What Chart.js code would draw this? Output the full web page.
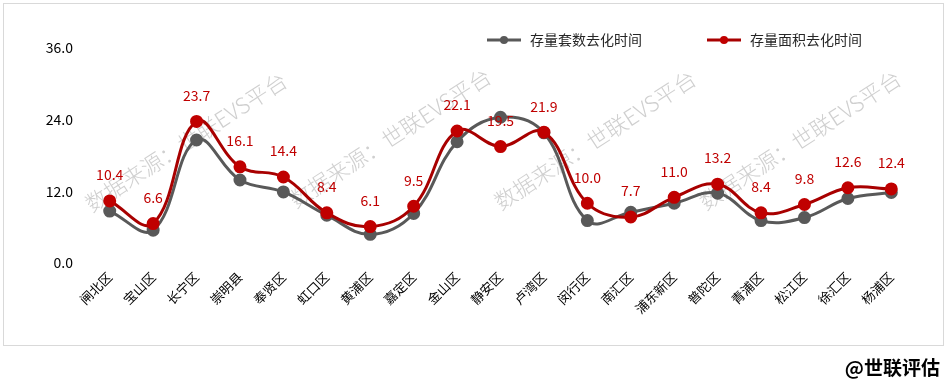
<!DOCTYPE html>
<html>
<head>
<meta charset="utf-8">
<script src="https://cdn.jsdelivr.net/npm/chart.js@4/dist/chart.umd.min.js"></script>
<style>
html,body{margin:0;padding:0;background:#fff;}
#wrap{position:relative;width:948px;height:382px;}
</style>
</head>
<body>
<div id="wrap"><canvas id="c" width="948" height="382"></canvas></div>
<script>
const categories = ['闸北区','宝山区','长宁区','崇明县','奉贤区','虹口区','黄浦区','嘉定区','金山区','静安区','卢湾区','闵行区','南汇区','浦东新区','普陀区','青浦区','松江区','徐汇区','杨浦区'];
const setsMonths = [8.7,5.5,20.6,13.9,11.9,8.0,4.8,8.3,20.3,24.4,21.8,7.1,8.5,10.0,11.7,7.1,7.6,10.8,11.8];
const areaMonths = [10.4,6.6,23.7,16.1,14.4,8.4,6.1,9.5,22.1,19.5,21.9,10.0,7.7,11.0,13.2,8.4,9.8,12.6,12.4];
const seriesNames = ['存量套数去化时间','存量面积去化时间'];
const yTicks = [0,12,24,36];
const watermark = '数据来源：世联EVS平台';
const credit = '@世联评估';

const FONT = '"Noto Sans CJK SC","Noto Sans",sans-serif';
const GRAY = '#595959';
const RED = '#c00000';
const RED_LINE = '#a80000';

const extras = {
  id: 'extras',
  beforeDraw(chart) {
    const ctx = chart.ctx;
    ctx.save();
    ctx.strokeStyle = '#d9d9d9';
    ctx.lineWidth = 1;
    ctx.strokeRect(3.5, 3.5, 940, 342);
    ctx.restore();
  },
  beforeDatasetsDraw(chart) {
    const ctx = chart.ctx;
    const centers = [[186,142],[390,138],[595,140],[800,140]];
    ctx.save();
    ctx.font = '300 22px ' + FONT;
    ctx.fillStyle = 'rgba(160,160,160,0.5)';
    ctx.textAlign = 'center';
    ctx.textBaseline = 'middle';
    centers.forEach(([x,y]) => {
      ctx.save();
      ctx.translate(x, y);
      ctx.rotate(-33 * Math.PI / 180);
      ctx.fillText(watermark, 0, 0);
      ctx.restore();
    });
    ctx.restore();
  },
  afterDatasetsDraw(chart) {
    const ctx = chart.ctx;
    const meta = chart.getDatasetMeta(1);
    ctx.save();
    ctx.font = '14px ' + FONT;
    ctx.fillStyle = RED;
    ctx.textAlign = 'center';
    ctx.textBaseline = 'middle';
    meta.data.forEach((pt, i) => {
      ctx.fillText(areaMonths[i].toFixed(1), pt.x, pt.y - 26);
    });
    ctx.restore();
  },
  afterDraw(chart) {
    const ctx = chart.ctx;
    ctx.save();
    const items = [
      {x0: 487, name: seriesNames[0], color: GRAY, mcol: GRAY},
      {x0: 707, name: seriesNames[1], color: RED_LINE, mcol: RED}
    ];
    const y = 40;
    items.forEach(it => {
      ctx.strokeStyle = it.color;
      ctx.lineWidth = 3;
      ctx.beginPath();
      ctx.moveTo(it.x0, y);
      ctx.lineTo(it.x0 + 34, y);
      ctx.stroke();
      ctx.fillStyle = it.mcol;
      ctx.beginPath();
      ctx.arc(it.x0 + 17, y, 4, 0, Math.PI * 2);
      ctx.fill();
      ctx.fillStyle = '#262626';
      ctx.font = '14px ' + FONT;
      ctx.textAlign = 'left';
      ctx.textBaseline = 'middle';
      ctx.fillText(it.name, it.x0 + 43, y);
    });
    ctx.font = 'bold 19px ' + FONT;
    ctx.fillStyle = '#000';
    ctx.textAlign = 'right';
    ctx.textBaseline = 'middle';
    ctx.fillText(credit, 940, 368);
    ctx.restore();
  }
};

new Chart(document.getElementById('c'), {
  type: 'line',
  data: {
    labels: categories,
    datasets: [
      {
        label: seriesNames[0],
        data: setsMonths,
        borderColor: GRAY,
        backgroundColor: GRAY,
        pointBackgroundColor: GRAY,
        pointBorderColor: GRAY,
        borderWidth: 3,
        pointRadius: 5,
        tension: 0.4,
        order: 2
      },
      {
        label: seriesNames[1],
        data: areaMonths,
        borderColor: RED_LINE,
        backgroundColor: RED,
        pointBackgroundColor: RED,
        pointBorderColor: RED,
        borderWidth: 3,
        pointRadius: 5,
        tension: 0.4,
        order: 1
      }
    ]
  },
  options: {
    responsive: false,
    animation: false,
    devicePixelRatio: 1,
    layout: { padding: { top: 48, left: 0, right: 35, bottom: 0 } },
    plugins: { legend: { display: false }, tooltip: { enabled: false } },
    scales: {
      x: {
        offset: true,
        grid: { display: false, drawTicks: false },
        border: { display: false },
        ticks: {
          autoSkip: false,
          maxRotation: 45,
          minRotation: 45,
          padding: 6,
          color: '#000',
          font: { size: 13, family: FONT }
        },
        afterFit(s) { s.height = 119; }
      },
      y: {
        min: yTicks[0],
        max: yTicks[yTicks.length - 1],
        grid: { display: false, drawTicks: false },
        border: { display: false },
        afterBuildTicks(s) { s.ticks = yTicks.map(v => ({ value: v })); },
        ticks: {
          padding: 15,
          color: '#000',
          font: { size: 14, family: FONT },
          callback: v => Number(v).toFixed(1)
        },
        afterFit(s) { s.width = 88; }
      }
    }
  },
  plugins: [extras]
});
</script>
</body>
</html>
